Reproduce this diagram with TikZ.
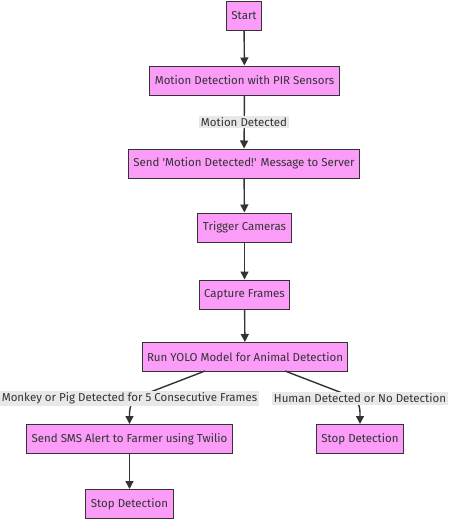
\documentclass[tikz,border=0pt]{standalone}
\usepackage{fontspec}
\setmainfont{Fira Sans}
\usetikzlibrary{arrows.meta}
\definecolor{boxpink}{HTML}{FA9CF8}
\definecolor{boxline}{HTML}{333333}
\definecolor{lblgray}{HTML}{E8E8E8}

\begin{document}
\begin{tikzpicture}[x=1pt, y=-1pt,
    box/.style={draw=boxline, fill=boxpink, line width=1pt, minimum height=29pt,
      inner xsep=5pt, font=\fontsize{11.5}{13}\selectfont, text=black!80},
    lbl/.style={fill=lblgray, inner sep=1.5pt, font=\fontsize{11.5}{13}\selectfont, text=black!80},
    arr/.style={draw=boxline, line width=1.4pt, -{Triangle[length=8pt, width=8pt]}}]
  \useasboundingbox (0,0) rectangle (448,520);

  \node (start) [box] at (244,16) {Start};
  \node (pir) [box] at (244.5,80.5) {Motion Detection with PIR Sensors};
  \node (send) [box] at (244,163.5) {Send \textquotesingle Motion Detected!\textquotesingle{} Message to Server};
  \node (cams) [box] at (244.5,227.5) {Trigger Cameras};
  \node (frames) [box] at (244.5,294.5) {Capture Frames};
  \node (yolo) [box] at (245,357) {Run YOLO Model for Animal Detection};
  \node (sms) [box] at (129.5,439) {Send SMS Alert to Farmer using Twilio};
  \node (stopR) [box] at (360,439) {Stop Detection};
  \node (stopL) [box] at (129.5,504) {Stop Detection};

  \coordinate (yl) at (205,371);
  \coordinate (yr) at (285,371);
  \coordinate (kl) at (140,396);
  \coordinate (kr) at (350,396);

  \draw [arr] (start) -- (pir);
  \draw [arr] (pir) -- (send);
  \draw [arr] (send) -- (cams);
  \draw [arr] (cams) -- (frames);
  \draw [arr] (frames) -- (yolo);
  \draw [arr] (yl) -- (kl) to [out=200, in=90] (sms.north);
  \draw [arr] (yr) -- (kr) to [out=-20, in=90] (stopR.north);
  \draw [arr] (sms) -- (stopL);

  \node (mdet) [lbl] at (244,122) {Motion Detected};
  \node (lblL) [lbl] at (129.5,398.5) {Monkey or Pig Detected for 5 Consecutive Frames};
  \node (lblR) [lbl] at (360,398.5) {Human Detected or No Detection};
\end{tikzpicture}
\end{document}
